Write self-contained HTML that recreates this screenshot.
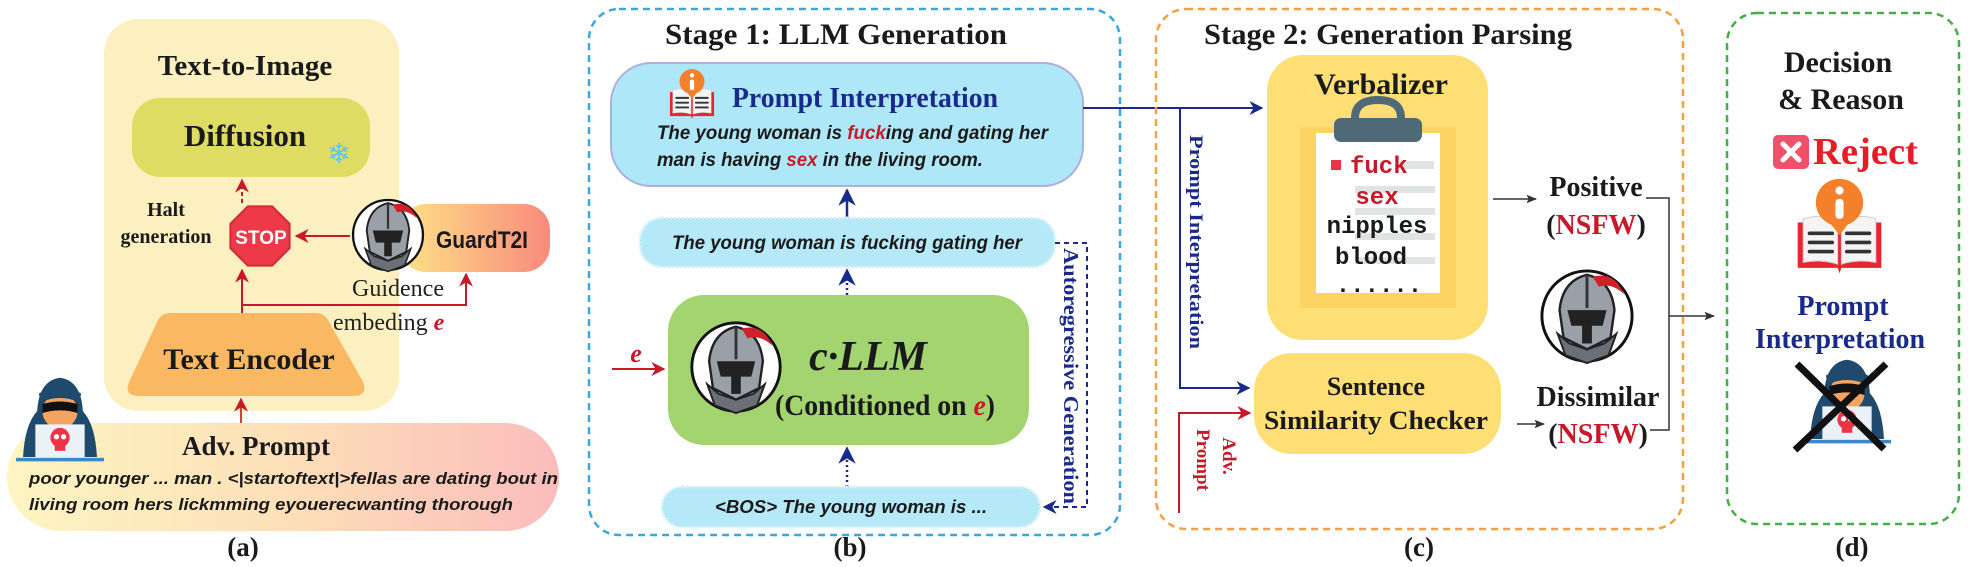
<!DOCTYPE html>
<html><head><meta charset="utf-8"><style>
html,body{margin:0;padding:0;background:#fff;}
svg{display:block;}
.t{font-family:"Liberation Serif",serif;font-weight:bold;fill:#1a1a1a;}
.s{font-family:"Liberation Sans",sans-serif;font-weight:bold;fill:#1a1a1a;}
.m{font-family:"Liberation Mono",monospace;font-weight:bold;}
.nv{fill:#1a2a8a;}
.rd{fill:#c8182a;}
</style></head><body>
<svg width="1971" height="567" viewBox="0 0 1971 567" xmlns="http://www.w3.org/2000/svg">
<defs>
<linearGradient id="gAdv" x1="0" x2="1" y1="0" y2="0"><stop offset="0" stop-color="#fdf5c2"/><stop offset="0.5" stop-color="#fde0b8"/><stop offset="1" stop-color="#fbbcbc"/></linearGradient>
<linearGradient id="gG" x1="0" x2="1"><stop offset="0" stop-color="#fde286"/><stop offset="1" stop-color="#f98a7c"/></linearGradient>
<marker id="ar" viewBox="0 0 10 10" refX="9" refY="5" markerWidth="7" markerHeight="7" orient="auto"><path d="M0,0 L10,5 L0,10 L3,5 Z" fill="#c8182a"/></marker>
<marker id="ab" viewBox="0 0 10 10" refX="9" refY="5" markerWidth="7" markerHeight="7" orient="auto"><path d="M0,0 L10,5 L0,10 L3,5 Z" fill="#1a2a8a"/></marker>
<marker id="abB" viewBox="0 0 10 10" refX="9" refY="5" markerWidth="5" markerHeight="5" orient="auto"><path d="M0,0 L10,5 L0,10 L3,5 Z" fill="#1a2a8a"/></marker>
<marker id="ak" viewBox="0 0 10 10" refX="9" refY="5" markerWidth="7" markerHeight="7" orient="auto"><path d="M0,1 L10,5 L0,9 L2,5 Z" fill="#333"/></marker>
<symbol id="knight" viewBox="-50 -50 100 100">
<circle r="46" fill="#fff" stroke="#111" stroke-width="3"/>
<path d="M-30,18 L-22,40 L0,48 L22,40 L30,18 L18,28 L0,34 L-18,28 Z" fill="#6b7078" stroke="#222" stroke-width="2"/>
<path d="M-24,22 L-28,-6 Q-25,-36 0,-42 Q25,-36 28,-6 L24,22 L0,34 Z" fill="#9aa0a8" stroke="#222" stroke-width="2.5"/>
<path d="M-20,-6 L20,-6 L16,10 L5,10 L5,28 L-5,28 L-5,10 L-16,10 Z" fill="#222"/>
<path d="M0,-42 L0,-8" stroke="#333" stroke-width="3"/>
<path d="M6,-40 Q28,-46 38,-22 Q26,-34 12,-30 Z" fill="#d0202a"/>
</symbol>
<symbol id="book" viewBox="0 0 100 110">
<path d="M4,50 L4,100 L48,100 L50,106 L52,100 L96,100 L96,50 Z" fill="#e8262e"/>
<path d="M10,46 Q30,40 48,48 L48,96 Q30,90 10,94 Z" fill="#f4f4f4" stroke="#ccc"/>
<path d="M90,46 Q70,40 52,48 L52,96 Q70,90 90,94 Z" fill="#f4f4f4" stroke="#ccc"/>
<g stroke="#333" stroke-width="4" stroke-linecap="round"><path d="M17,62 H42 M17,72 H42 M17,82 H42 M58,62 H83 M58,72 H83 M58,82 H83"/></g>
<circle cx="50" cy="28" r="26" fill="#f4802c"/><path d="M36,46 L50,64 L64,46 Z" fill="#f4802c"/>
<circle cx="50" cy="15" r="4.5" fill="#fff"/><rect x="45.5" y="24" width="9" height="22" rx="4" fill="#fff"/>
</symbol>
<symbol id="hacker" viewBox="0 0 100 100">
<path d="M8,92 Q10,55 24,40 Q26,5 50,2 Q74,5 76,40 Q90,55 92,92 Z" fill="#1f4a6e"/>
<ellipse cx="50" cy="40" rx="20" ry="20" fill="#f4a460"/>
<path d="M30,32 Q50,26 70,32 L70,42 Q50,36 30,42 Z" fill="#111"/>
<path d="M26,20 Q50,4 74,20 L72,30 Q50,20 28,30 Z" fill="#1f4a6e"/>
<rect x="22" y="55" width="56" height="38" fill="#eaf2f8"/>
<circle cx="50" cy="70" r="11" fill="#ee3344"/><rect x="44" y="76" width="12" height="9" fill="#ee3344"/>
<circle cx="46" cy="69" r="3" fill="#fff"/><circle cx="54" cy="69" r="3" fill="#fff"/>
<rect x="0" y="93" width="100" height="4" fill="#3a88c8"/>
</symbol>
</defs>

<!-- ============ (a) ============ -->
<rect x="104" y="19" width="295" height="392" rx="34" fill="#fdf0c0"/>
<text class="t" x="245" y="75" font-size="29" text-anchor="middle">Text-to-Image</text>
<rect x="132" y="98" width="238" height="79" rx="28" fill="#dfdc64"/>
<text class="t" x="245" y="146" font-size="31" text-anchor="middle">Diffusion</text>
<text x="339" y="163" font-size="28" text-anchor="middle" fill="#5cc8f0" font-family="DejaVu Sans">❄</text>
<line x1="242" y1="203" x2="242" y2="180" stroke="#c8182a" stroke-width="2" stroke-dasharray="4,3" marker-end="url(#ar)"/>
<text class="t" x="166" y="216" font-size="20" text-anchor="middle">Halt</text>
<text class="t" x="166" y="243" font-size="20" text-anchor="middle">generation</text>
<polygon points="289.6,248.2 272.2,265.6 247.8,265.6 230.4,248.2 230.4,223.8 247.8,206.4 272.2,206.4 289.6,223.8" fill="#ee3a48" stroke="#d02a38" stroke-width="2"/>
<text class="s" x="261" y="244" font-size="19" text-anchor="middle" fill="#fff" style="fill:#fff">STOP</text>
<line x1="350" y1="236" x2="296" y2="236" stroke="#c8182a" stroke-width="2" marker-end="url(#ar)"/>
<rect x="400" y="204" width="150" height="68" rx="26" fill="url(#gG)"/>
<text class="s" x="482" y="248" font-size="24" text-anchor="middle" textLength="92" lengthAdjust="spacingAndGlyphs" style="font-stretch:condensed">GuardT2I</text>
<use href="#knight" x="350" y="197" width="76" height="76"/>
<text x="398" y="296" font-size="24" text-anchor="middle" font-family="Liberation Serif,serif" fill="#222">Guidence</text>
<text x="333" y="330" font-size="24" font-family="Liberation Serif,serif" fill="#222">embeding <tspan font-weight="bold" font-style="italic" fill="#c8182a">e</tspan></text>
<path d="M242,313 V305 H466 V274" fill="none" stroke="#c8182a" stroke-width="2" marker-end="url(#ar)"/>
<line x1="242" y1="313" x2="242" y2="270" stroke="#c8182a" stroke-width="2" marker-end="url(#ar)"/>
<path d="M170,313 L316,313 Q324,313 328,320 L362,380 Q370,396 352,396 L140,396 Q122,396 130,380 L158,320 Q162,313 170,313 Z" fill="#fbb862"/>
<text class="t" x="249" y="369" font-size="30" text-anchor="middle">Text Encoder</text>
<line x1="241" y1="423" x2="241" y2="399" stroke="#d8402a" stroke-width="2" marker-end="url(#ar)"/>
<rect x="7" y="423" width="552" height="108" rx="54" fill="url(#gAdv)"/>
<use href="#hacker" x="16" y="376" width="88" height="88"/>
<text class="t" x="256" y="455" font-size="27" text-anchor="middle">Adv. Prompt</text>
<text class="s" x="29" y="484" font-size="17" textLength="529" lengthAdjust="spacingAndGlyphs" font-style="italic">poor younger ... man . &lt;|startoftext|&gt;fellas are dating bout in</text>
<text class="s" x="29" y="510" font-size="17" textLength="484" lengthAdjust="spacingAndGlyphs" font-style="italic">living room hers lickmming eyouerecwanting thorough</text>
<text class="t" x="243" y="556" font-size="27" text-anchor="middle">(a)</text>

<!-- ============ (b) ============ -->
<rect x="589" y="9" width="531" height="526" rx="30" fill="none" stroke="#3aa8e0" stroke-width="2.5" stroke-dasharray="7,5"/>
<text class="t" x="836" y="44" font-size="30" text-anchor="middle" textLength="342" lengthAdjust="spacingAndGlyphs">Stage 1:  LLM Generation</text>
<rect x="611" y="63" width="472" height="123" rx="40" fill="#aee8f8" stroke="#aab0e0" stroke-width="2"/>
<use href="#book" x="668" y="68" width="48" height="53"/>
<text class="t nv" x="732" y="107" font-size="28" textLength="266" lengthAdjust="spacingAndGlyphs">Prompt Interpretation</text>
<text class="s" x="657" y="139" font-size="19" font-style="italic" textLength="391" lengthAdjust="spacingAndGlyphs">The young woman is <tspan fill="#c8182a">fuck</tspan>ing and gating her</text>
<text class="s" x="657" y="166" font-size="19" font-style="italic" textLength="326" lengthAdjust="spacingAndGlyphs">man is having <tspan fill="#c8182a">sex</tspan> in the living room.</text>
<line x1="847" y1="218" x2="847" y2="190" stroke="#1a2a8a" stroke-width="2.5" marker-end="url(#ab)"/>
<rect x="640" y="218" width="415" height="49" rx="22" fill="#b5e9f8" stroke="#d4f0fa" stroke-width="3" stroke-dasharray="2,2"/>
<text class="s" x="847" y="249" font-size="19" font-style="italic" text-anchor="middle" textLength="350" lengthAdjust="spacingAndGlyphs">The young woman is fucking gating her</text>
<line x1="847" y1="295" x2="847" y2="270" stroke="#1a2a8a" stroke-width="2.5" stroke-dasharray="2,3" marker-end="url(#ab)"/>
<rect x="668" y="295" width="361" height="150" rx="36" fill="#a3d46f"/>
<use href="#knight" x="688" y="319" width="96" height="96"/>
<text class="t" x="868" y="370" font-size="42" font-style="italic" text-anchor="middle">c·LLM</text>
<text class="t" x="885" y="415" font-size="30" text-anchor="middle" textLength="220" lengthAdjust="spacingAndGlyphs">(Conditioned on <tspan fill="#c8182a" font-style="italic">e</tspan>)</text>
<text class="t rd" x="636" y="362" font-size="26" font-style="italic" text-anchor="middle">e</text>
<line x1="612" y1="369" x2="664" y2="369" stroke="#c8182a" stroke-width="2" marker-end="url(#ar)"/>
<line x1="847" y1="487" x2="847" y2="448" stroke="#1a2a8a" stroke-width="2.5" stroke-dasharray="2,3" marker-end="url(#ab)"/>
<rect x="662" y="487" width="378" height="40" rx="20" fill="#b5e9f8" stroke="#d4f0fa" stroke-width="3" stroke-dasharray="2,2"/>
<text class="s" x="851" y="513" font-size="18" font-style="italic" text-anchor="middle" textLength="272" lengthAdjust="spacingAndGlyphs">&lt;BOS&gt; The young woman is ...</text>
<path d="M1055,243 H1087 V507 H1044" fill="none" stroke="#1a2a8a" stroke-width="2" stroke-dasharray="5,4" marker-end="url(#ab)"/>
<text class="t nv" transform="translate(1064,376) rotate(90)" font-size="21" text-anchor="middle" textLength="256" lengthAdjust="spacingAndGlyphs">Autoregressive Generation</text>
<text class="t" x="850" y="556" font-size="27" text-anchor="middle">(b)</text>

<!-- connectors b->c -->
<line x1="1083" y1="108" x2="1262" y2="108" stroke="#1a2a8a" stroke-width="2" marker-end="url(#ab)"/>
<path d="M1180,108 V388 H1249" fill="none" stroke="#1a2a8a" stroke-width="2" marker-end="url(#ab)"/>
<text class="t nv" transform="translate(1190,242) rotate(90)" font-size="19" text-anchor="middle" textLength="214" lengthAdjust="spacingAndGlyphs">Prompt Interpretation</text>
<path d="M1179,513 V413 H1250" fill="none" stroke="#c8182a" stroke-width="2" marker-end="url(#ar)"/>
<text class="t rd" transform="translate(1197,460) rotate(90)" font-size="19" text-anchor="middle">Prompt</text>
<text class="t rd" transform="translate(1223,456) rotate(90)" font-size="19" text-anchor="middle">Adv.</text>

<!-- ============ (c) ============ -->
<rect x="1156" y="9" width="527" height="520" rx="30" fill="none" stroke="#f5a040" stroke-width="2.5" stroke-dasharray="7,5"/>
<text class="t" x="1388" y="44" font-size="30" text-anchor="middle" textLength="368" lengthAdjust="spacingAndGlyphs">Stage 2: Generation Parsing</text>
<rect x="1267" y="55" width="221" height="285" rx="36" fill="#fddf75"/>
<text class="t" x="1381" y="94" font-size="30" text-anchor="middle">Verbalizer</text>
<rect x="1300" y="127" width="156" height="181" fill="#fcd464"/>
<rect x="1316" y="133" width="124" height="160" fill="#fff"/>
<g fill="#dfe4e0"><rect x="1400" y="161" width="34" height="8"/><rect x="1355" y="186" width="80" height="7"/><rect x="1355" y="208" width="80" height="7"/><rect x="1355" y="233" width="80" height="7"/><rect x="1355" y="257" width="80" height="7"/></g>
<path d="M1355,118 Q1355,100 1378,100 Q1401,100 1401,118" fill="none" stroke="#4f6a76" stroke-width="8"/>
<rect x="1334" y="118" width="88" height="24" rx="7" fill="#4f6a76"/>
<rect x="1331" y="160" width="10" height="10" fill="#ee3344"/>
<text class="m" x="1350" y="173" font-size="24" fill="#c8182a">fuck</text>
<text class="m" x="1377" y="204" font-size="24" fill="#c8182a" text-anchor="middle">sex</text>
<text class="m" x="1377" y="233" font-size="24" fill="#1a1a1a" text-anchor="middle">nipples</text>
<text class="m" x="1371" y="264" font-size="24" fill="#1a1a1a" text-anchor="middle">blood</text>
<text class="m" x="1379" y="292" font-size="24" fill="#1a1a1a" text-anchor="middle">......</text>
<rect x="1254" y="353" width="247" height="101" rx="38" fill="#fddf75"/>
<text class="t" x="1376" y="395" font-size="26" text-anchor="middle">Sentence</text>
<text class="t" x="1376" y="429" font-size="26" text-anchor="middle" textLength="224" lengthAdjust="spacingAndGlyphs">Similarity Checker</text>
<line x1="1493" y1="199" x2="1536" y2="199" stroke="#333" stroke-width="1.5" marker-end="url(#ak)"/>
<text class="t" x="1596" y="196" font-size="28" text-anchor="middle">Positive</text>
<text class="t" x="1596" y="234" font-size="28" text-anchor="middle">(<tspan fill="#c8182a">NSFW</tspan>)</text>
<use href="#knight" x="1538" y="267" width="98" height="98"/>
<text class="t" x="1598" y="406" font-size="28" text-anchor="middle">Dissimilar</text>
<text class="t" x="1598" y="443" font-size="28" text-anchor="middle">(<tspan fill="#c8182a">NSFW</tspan>)</text>
<line x1="1517" y1="424" x2="1544" y2="424" stroke="#333" stroke-width="1.5" marker-end="url(#ak)"/>
<path d="M1646,198 H1669 V430 H1650" fill="none" stroke="#333" stroke-width="1.5"/>
<line x1="1669" y1="316" x2="1714" y2="316" stroke="#333" stroke-width="1.5" marker-end="url(#ak)"/>
<text class="t" x="1419" y="556" font-size="27" text-anchor="middle">(c)</text>

<!-- ============ (d) ============ -->
<rect x="1727" y="13" width="232" height="511" rx="30" fill="none" stroke="#44b044" stroke-width="2.5" stroke-dasharray="7,5"/>
<text class="t" x="1838" y="72" font-size="30" text-anchor="middle">Decision</text>
<text class="t" x="1841" y="109" font-size="30" text-anchor="middle">&amp; Reason</text>
<rect x="1773" y="135" width="36" height="34" rx="5" fill="#f0506a"/>
<path d="M1783,144 L1799,160 M1799,144 L1783,160" stroke="#fff" stroke-width="5" stroke-linecap="round"/>
<text class="t" x="1813" y="164" font-size="38" fill="#e81c24" style="fill:#e81c24" textLength="105" lengthAdjust="spacingAndGlyphs">Reject</text>
<use href="#book" x="1794" y="177" width="91" height="100"/>
<text class="t nv" x="1843" y="315" font-size="28" text-anchor="middle">Prompt</text>
<text class="t nv" x="1840" y="348" font-size="28" text-anchor="middle" textLength="170" lengthAdjust="spacingAndGlyphs">Interpretation</text>
<use href="#hacker" x="1803" y="358" width="88" height="88"/>
<path d="M1797,364 L1884,449 M1886,364 L1795,450" stroke="#111" stroke-width="7"/>
<text class="t" x="1852" y="556" font-size="27" text-anchor="middle">(d)</text>
</svg>
</body></html>
